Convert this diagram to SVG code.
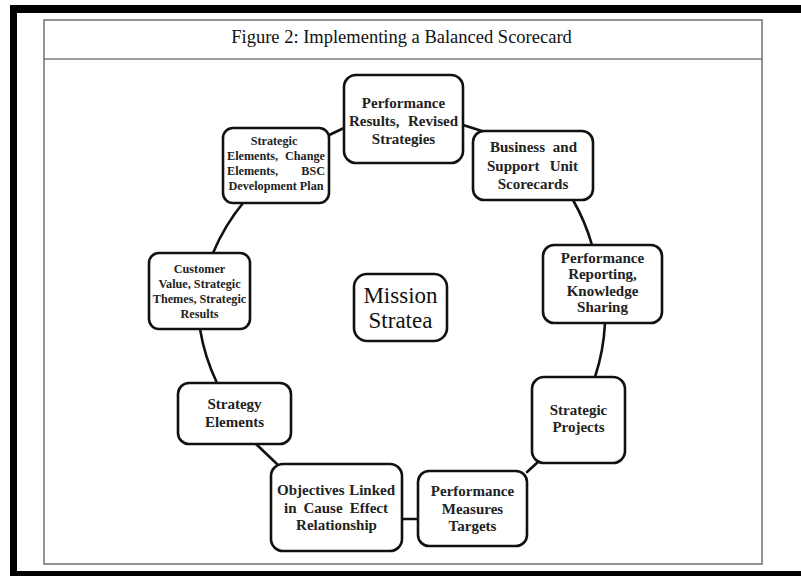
<svg xmlns="http://www.w3.org/2000/svg" width="801" height="576" viewBox="0 0 801 576">
  <style>
    .frame { fill: #000; }
    .panel { fill: #fff; stroke: #7a7a7a; stroke-width: 1.6; }
    .rule { stroke: #7a7a7a; stroke-width: 1.6; }
    .title { font-family: "Liberation Serif", "Times New Roman", serif; font-size: 18.5px; fill: #111; text-anchor: middle; }
    .box { fill: #fff; stroke: #111; stroke-width: 2.6; }
    .lbl { font-family: "Liberation Serif", "Times New Roman", serif; font-weight: bold; fill: #222; text-anchor: middle; }
    .l { text-anchor: start; }
    .r { text-anchor: end; }
    .s15 { font-size: 15px; }
    .s12 { font-size: 12.2px; }
    .big { font-family: "Liberation Serif", "Times New Roman", serif; font-size: 23px; fill: #111; text-anchor: middle; }
    .link { fill: none; stroke: #111; stroke-width: 2.6; stroke-linecap: round; }
  </style>

  <!-- outer black frame (top, left, bottom bands) -->
  <rect class="frame" x="10" y="5" width="791" height="8"/>
  <rect class="frame" x="10" y="5" width="7" height="571"/>
  <rect class="frame" x="10" y="571" width="791" height="5"/>

  <!-- figure panel with title bar -->
  <rect class="panel" x="44" y="20" width="718" height="544"/>
  <line class="rule" x1="44" y1="59" x2="762" y2="59"/>
  <text class="title" x="401.5" y="43">Figure 2: Implementing a Balanced Scorecard</text>

  <!-- connectors around the cycle -->
  <g id="connectors">
    <line class="link" x1="327" y1="136" x2="344" y2="128"/>
    <line class="link" x1="463" y1="125" x2="482" y2="131"/>
    <path class="link" d="M573,200 A205,205 0 0 1 592,245"/>
    <path class="link" d="M605,323 A205,205 0 0 1 595,377"/>
    <line class="link" x1="527" y1="472" x2="538" y2="462"/>
    <line class="link" x1="402" y1="519" x2="418" y2="519"/>
    <line class="link" x1="256" y1="444" x2="277" y2="464"/>
    <path class="link" d="M200,329 A200,200 0 0 0 217,383"/>
    <path class="link" d="M243,203 A200,200 0 0 0 213,253"/>
  </g>

  <g id="node-results">
    <rect class="box" x="344" y="75" width="119" height="88" rx="12"/>
    <text class="lbl s15" x="403.5" y="108">Performance</text>
    <text class="lbl s15 l" x="349" y="126">Results,</text>
    <text class="lbl s15 r" x="458" y="126">Revised</text>
    <text class="lbl s15" x="403.5" y="144">Strategies</text>
  </g>

  <g id="node-business">
    <rect class="box" x="473" y="131" width="120" height="69" rx="11"/>
    <text class="lbl s15 l" x="490" y="152">Business</text>
    <text class="lbl s15 r" x="577" y="152">and</text>
    <text class="lbl s15 l" x="487" y="171">Support</text>
    <text class="lbl s15 r" x="578" y="171">Unit</text>
    <text class="lbl s15" x="533" y="189">Scorecards</text>
  </g>

  <g id="node-reporting">
    <rect class="box" x="543" y="245" width="119" height="78" rx="11"/>
    <text class="lbl s15" x="602.5" y="263">Performance</text>
    <text class="lbl s15" x="602.5" y="279">Reporting,</text>
    <text class="lbl s15" x="602.5" y="296">Knowledge</text>
    <text class="lbl s15" x="602.5" y="312">Sharing</text>
  </g>

  <g id="node-projects">
    <rect class="box" x="532" y="377" width="93" height="86" rx="12"/>
    <text class="lbl s15" x="578.5" y="415">Strategic</text>
    <text class="lbl s15" x="578.5" y="432">Projects</text>
  </g>

  <g id="node-measures">
    <rect class="box" x="418" y="471" width="109" height="75" rx="11"/>
    <text class="lbl s15" x="472.5" y="496">Performance</text>
    <text class="lbl s15" x="472.5" y="514">Measures</text>
    <text class="lbl s15" x="472.5" y="531">Targets</text>
  </g>

  <g id="node-objectives">
    <rect class="box" x="271" y="464" width="131" height="87" rx="12"/>
    <text class="lbl s15 l" x="277" y="495">Objectives</text>
    <text class="lbl s15 r" x="395" y="495">Linked</text>
    <text class="lbl s15 l" x="284" y="513">in</text>
    <text class="lbl s15" x="323" y="513">Cause</text>
    <text class="lbl s15 r" x="388" y="513">Effect</text>
    <text class="lbl s15" x="336.5" y="530">Relationship</text>
  </g>

  <g id="node-strategy-elements">
    <rect class="box" x="178" y="383" width="113" height="61" rx="11"/>
    <text class="lbl s15" x="234.5" y="409">Strategy</text>
    <text class="lbl s15" x="234.5" y="427">Elements</text>
  </g>

  <g id="node-customer">
    <rect class="box" x="149" y="253" width="101" height="76" rx="10"/>
    <text class="lbl s12" x="199.5" y="273">Customer</text>
    <text class="lbl s12" x="199.5" y="288">Value, Strategic</text>
    <text class="lbl s12" x="199.5" y="303">Themes, Strategic</text>
    <text class="lbl s12" x="199.5" y="318">Results</text>
  </g>

  <g id="node-change-elements">
    <rect class="box" x="223" y="128" width="106" height="75" rx="10"/>
    <text class="lbl s12" x="274" y="145">Strategic</text>
    <text class="lbl s12 l" x="227" y="160">Elements,</text>
    <text class="lbl s12 r" x="325" y="160">Change</text>
    <text class="lbl s12 l" x="227" y="175">Elements,</text>
    <text class="lbl s12 r" x="325" y="175">BSC</text>
    <text class="lbl s12" x="276" y="190">Development Plan</text>
  </g>

  <g id="node-mission">
    <rect class="box" x="354" y="274" width="93" height="67" rx="13"/>
    <text class="big" x="400.5" y="303">Mission</text>
    <text class="big" x="400.5" y="328">Stratea</text>
  </g>
</svg>
